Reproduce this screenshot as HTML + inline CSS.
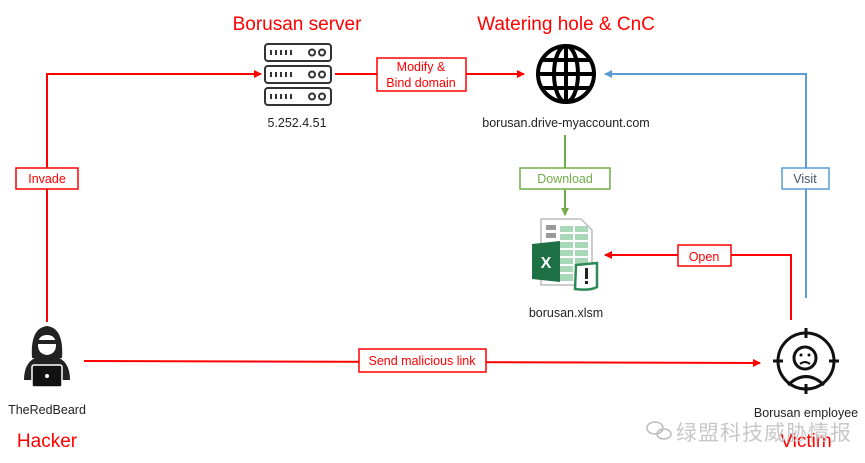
<!DOCTYPE html>
<html><head><meta charset="utf-8"><style>
body{margin:0;background:#fff;}
svg{display:block;font-family:"Liberation Sans","Noto Sans CJK SC",sans-serif;}
</style></head><body>
<svg width="865" height="463" viewBox="0 0 865 463" xmlns="http://www.w3.org/2000/svg">
<defs>
<marker id="ar" markerWidth="8" markerHeight="8" refX="7" refY="4" orient="auto" markerUnits="userSpaceOnUse"><path d="M0,0 L8,4 L0,8z" fill="#f00"/></marker>
<marker id="ab" markerWidth="8" markerHeight="8" refX="7" refY="4" orient="auto" markerUnits="userSpaceOnUse"><path d="M0,0 L8,4 L0,8z" fill="#5b9bd5"/></marker>
<marker id="ag" markerWidth="8" markerHeight="8" refX="7" refY="4" orient="auto" markerUnits="userSpaceOnUse"><path d="M0,0 L8,4 L0,8z" fill="#70ad47"/></marker>
</defs>
<!-- connectors -->
<polyline points="47,322 47,74 261,74" fill="none" stroke="#f00" stroke-width="2" marker-end="url(#ar)"/>
<polyline points="335,74 524,74" fill="none" stroke="#f00" stroke-width="2" marker-end="url(#ar)"/>
<polyline points="806,298 806,74 605,74" fill="none" stroke="#5b9bd5" stroke-width="2" marker-end="url(#ab)"/>
<polyline points="565,135 565,215" fill="none" stroke="#70ad47" stroke-width="2" marker-end="url(#ag)"/>
<polyline points="791,320 791,255 605,255" fill="none" stroke="#f00" stroke-width="2" marker-end="url(#ar)"/>
<polyline points="84,361 760,363" fill="none" stroke="#f00" stroke-width="2" marker-end="url(#ar)"/>
<!-- labels -->
<g font-size="12.5" text-anchor="middle">
<rect x="16" y="168" width="62" height="21" fill="#fff" stroke="#f00" stroke-width="1.5"/>
<text x="47" y="183" fill="#f00">Invade</text>
<rect x="377" y="58" width="89" height="33" fill="#fff" stroke="#f00" stroke-width="1.5"/>
<text x="421" y="71" fill="#f00">Modify &amp;</text>
<text x="421" y="87" fill="#f00">Bind domain</text>
<rect x="782" y="168" width="47" height="21" fill="#fff" stroke="#5b9bd5" stroke-width="1.5"/>
<text x="805" y="183" fill="#44546a">Visit</text>
<rect x="520" y="168" width="90" height="21" fill="#fff" stroke="#70ad47" stroke-width="1.5"/>
<text x="565" y="183" fill="#70ad47">Download</text>
<rect x="678" y="245" width="53" height="21" fill="#fff" stroke="#f00" stroke-width="1.5"/>
<text x="704" y="261" fill="#f00">Open</text>
<rect x="359" y="349" width="127" height="23" fill="#fff" stroke="#f00" stroke-width="1.5"/>
<text x="422" y="365" fill="#f00">Send malicious link</text>
</g>
<!-- titles -->
<g font-size="19" fill="#f00" text-anchor="middle">
<text x="297" y="30">Borusan server</text>
<text x="566" y="30">Watering hole &amp; CnC</text>
<text x="47" y="447">Hacker</text>
<text x="806" y="447">Victim</text>
</g>
<g font-size="12.5" fill="#222" text-anchor="middle">
<text x="297" y="127">5.252.4.51</text>
<text x="566" y="127">borusan.drive-myaccount.com</text>
<text x="566" y="317">borusan.xlsm</text>
<text x="47" y="414">TheRedBeard</text>
<text x="806" y="417">Borusan employee</text>
</g>
<!-- server -->
<g fill="none" stroke="#333" stroke-width="2">
<rect x="265" y="44" width="66" height="17" rx="3"/>
<rect x="265" y="66" width="66" height="17" rx="3"/>
<rect x="265" y="88" width="66" height="17" rx="3"/>
<circle cx="312" cy="52.5" r="3"/><circle cx="322" cy="52.5" r="3"/>
<circle cx="312" cy="74.5" r="3"/><circle cx="322" cy="74.5" r="3"/>
<circle cx="312" cy="96.5" r="3"/><circle cx="322" cy="96.5" r="3"/>
</g>
<g stroke="#333" stroke-width="5" stroke-dasharray="2,3">
<line x1="270" y1="52.5" x2="295" y2="52.5"/><line x1="270" y1="74.5" x2="295" y2="74.5"/><line x1="270" y1="96.5" x2="295" y2="96.5"/>
</g>
<!-- globe -->
<g fill="none" stroke="#000" stroke-width="4">
<circle cx="566" cy="74" r="28"/>
<ellipse cx="566" cy="74" rx="12" ry="28"/>
<line x1="566" y1="46" x2="566" y2="102"/>
<line x1="538" y1="74" x2="594" y2="74"/>
<line x1="543" y1="60" x2="589" y2="60"/>
<line x1="543" y1="88" x2="589" y2="88"/>
</g>
<!-- excel -->
<path d="M541,219 L581,219 L592,230 L592,285 L541,285z" fill="#fff" stroke="#bbb" stroke-width="1.5"/>
<g fill="#a9d8b8"><rect x="560" y="226" width="28" height="55"/></g>
<g fill="#999"><rect x="546" y="225" width="10" height="5"/><rect x="546" y="233" width="10" height="5"/></g>
<g stroke="#fff" stroke-width="2"><line x1="560" y1="233" x2="590" y2="233"/><line x1="560" y1="241" x2="590" y2="241"/><line x1="560" y1="249" x2="590" y2="249"/><line x1="560" y1="257" x2="590" y2="257"/><line x1="560" y1="265" x2="590" y2="265"/><line x1="560" y1="273" x2="590" y2="273"/><line x1="574" y1="226" x2="574" y2="281"/></g>
<path d="M532,244 L560,241 L560,282 L532,279z" fill="#1e7145"/>
<text x="546" y="268" font-size="16" font-weight="bold" fill="#fff" text-anchor="middle">X</text>
<path d="M576,265 L597,263 L597,287 Q590,291 575,289z" fill="#fff" stroke="#2e8b57" stroke-width="2.5"/>
<rect x="585" y="268" width="3" height="11" fill="#222"/><rect x="585" y="281" width="3" height="3" fill="#222"/>
<!-- hacker -->
<path d="M32,358 Q30,328 47,326 Q64,328 62,358z" fill="#222"/>
<path d="M38,345 Q38,335 47,335 Q56,335 56,345 Q56,354 47,355 Q38,354 38,345z" fill="#fff"/>
<rect x="38" y="340" width="18" height="4" fill="#222"/>
<path d="M24,380 Q24,360 40,356 L54,356 Q70,360 70,380z" fill="#222"/>
<rect x="32" y="365" width="30" height="22" rx="2" fill="#111" stroke="#fff" stroke-width="1.5"/>
<circle cx="47" cy="376" r="2" fill="#fff"/>
<!-- victim -->
<g fill="none" stroke="#111" stroke-width="3">
<circle cx="806" cy="361" r="28"/>
<circle cx="805" cy="358" r="11"/>
<path d="M788,385 Q806,368 824,385"/>
<line x1="806" y1="328" x2="806" y2="338"/><line x1="806" y1="384" x2="806" y2="394"/>
<line x1="773" y1="361" x2="783" y2="361"/><line x1="829" y1="361" x2="839" y2="361"/>
<path d="M800,364 Q805,360 810,364" stroke-width="2"/>
</g>
<circle cx="801" cy="355" r="1.5" fill="#111"/><circle cx="809" cy="355" r="1.5" fill="#111"/>
<!-- watermark -->
<g fill="none" stroke="#bbb" stroke-width="1.5"><ellipse cx="655" cy="428" rx="8" ry="6"/><ellipse cx="664" cy="434" rx="7" ry="5"/></g>
<text x="676" y="440" font-size="21" fill="#c8c8c8" font-family="'Noto Sans CJK SC',sans-serif" letter-spacing="1">绿盟科技威胁情报</text>
</svg>
</body></html>
